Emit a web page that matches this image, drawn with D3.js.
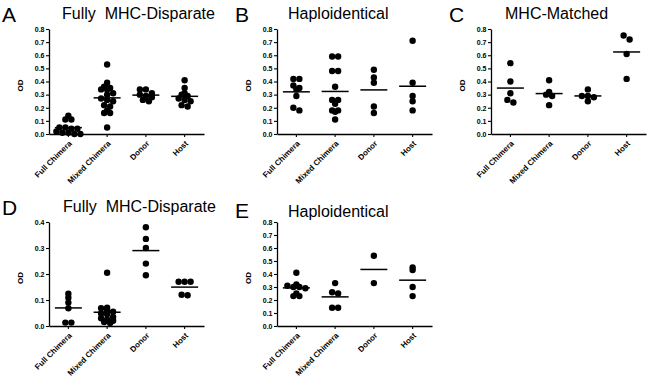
<!DOCTYPE html>
<html>
<head>
<meta charset="utf-8">
<script src="https://cdn.jsdelivr.net/npm/d3@7"></script>
<style>
  body { margin: 0; background: #fff; }
  text { font-family: "Liberation Sans", Arial, sans-serif; }
</style>
</head>
<body>
<svg id="chart" width="654" height="381"></svg>
<script>
// groups along the x axis
const categories = ["Full Chimera", "Mixed Chimera", "Donor", "Host"];

// y tick labels
const ticksTo08 = [0, 0.1, 0.2, 0.3, 0.4, 0.5, 0.6, 0.7, 0.8];
const ticksTo04 = [0, 0.1, 0.2, 0.3, 0.4];

// A - Fully MHC-Disparate
const aFull = [0.14, 0.11, 0.11, 0.05, 0.05, 0.04, 0.04, 0.02, 0.01, 0.01, 0.0, 0.0];
const aMixed = [0.53, 0.39, 0.36, 0.35, 0.34, 0.34, 0.31, 0.30, 0.27, 0.26, 0.25, 0.22, 0.21, 0.18, 0.16, 0.16, 0.05];
const aDonor = [0.34, 0.34, 0.31, 0.30, 0.29, 0.28, 0.26, 0.25];
const aHost = [0.41, 0.35, 0.31, 0.30, 0.29, 0.27, 0.26, 0.25, 0.22, 0.21];

// B - Haploidentical
const bFull = [0.42, 0.42, 0.37, 0.35, 0.34, 0.29, 0.20, 0.18];
const bMixed = [0.59, 0.59, 0.48, 0.48, 0.36, 0.26, 0.26, 0.23, 0.18, 0.18, 0.17, 0.11];
const bDonor = [0.49, 0.43, 0.39, 0.21, 0.16];
const bHost = [0.71, 0.39, 0.29, 0.25, 0.18];

// C - MHC-Matched
const cFull = [0.54, 0.40, 0.31, 0.26, 0.24];
const cMixed = [0.41, 0.32, 0.30, 0.29, 0.22];
const cDonor = [0.34, 0.29, 0.29, 0.28, 0.25];
const cHost = [0.75, 0.72, 0.61, 0.42];

// D - Fully MHC-Disparate
const dFull = [0.124, 0.109, 0.09, 0.068, 0.013, 0.013];
const dMixed = [0.205, 0.07, 0.068, 0.06, 0.055, 0.048, 0.045, 0.035, 0.03, 0.025, 0.02, 0.015, 0.012];
const dDonor = [0.38, 0.335, 0.30, 0.24, 0.195];
const dHost = [0.17, 0.17, 0.17, 0.12, 0.118];

// E - Haploidentical
const eFull = [0.41, 0.32, 0.31, 0.30, 0.30, 0.29, 0.25, 0.23, 0.23];
const eMixed = [0.33, 0.26, 0.25, 0.14, 0.14];
const eDonor = [0.54, 0.33];
const eHost = [0.45, 0.43, 0.30, 0.23];

const panels = [
  { letter: "A", title: "Fully  MHC-Disparate", groups: [aFull, aMixed, aDonor, aHost], ticks: ticksTo08,
    ax: 49, top: 29, bottom: 134, letterX: 2, letterY: 22, titleX: 62, titleY: 19 },
  { letter: "B", title: "Haploidentical", groups: [bFull, bMixed, bDonor, bHost], ticks: ticksTo08,
    ax: 277, top: 29, bottom: 134, letterX: 235, letterY: 22, titleX: 288, titleY: 19 },
  { letter: "C", title: "MHC-Matched", groups: [cFull, cMixed, cDonor, cHost], ticks: ticksTo08,
    ax: 491, top: 29, bottom: 134, letterX: 449, letterY: 22, titleX: 505, titleY: 19 },
  { letter: "D", title: "Fully  MHC-Disparate", groups: [dFull, dMixed, dDonor, dHost], ticks: ticksTo04,
    ax: 49, top: 222, bottom: 326, letterX: 2, letterY: 215, titleX: 63, titleY: 212 },
  { letter: "E", title: "Haploidentical", groups: [eFull, eMixed, eDonor, eHost], ticks: ticksTo08,
    ax: 277, top: 222, bottom: 326, letterX: 235, letterY: 218, titleX: 288, titleY: 217 }
];

const axisWidth = 155;
const dotR = 3.2;
const rowH = 4.5;   // height of a row of dots (px)
const stepX = 6;    // spacing of dots sharing a row
const meanHalf = 13.5;

// Prism-style scatter: bin by pixel height, lay each row out centred
function swarm(vals, y, bottom) {
  const pts = vals.map(v => ({ v: v, py: y(v) })).sort((a, b) => b.v - a.v);
  const rows = d3.group(pts, d => Math.floor((bottom - d.py) / rowH + 1e-6));
  rows.forEach(r => r.forEach((d, j) => { d.dx = (j - (r.length - 1) / 2) * stepX; }));
  return pts;
}

const svg = d3.select("#chart");

panels.forEach(p => {
  const x = d3.scaleBand().domain(categories).range([p.ax, p.ax + axisWidth]);
  const yMax = p.ticks[p.ticks.length - 1];
  const y = d3.scaleLinear().domain([0, yMax]).range([p.bottom, p.top]);

  const g = svg.append("g");

  // panel letter and title
  g.append("text").attr("x", p.letterX).attr("y", p.letterY)
    .attr("font-size", 21).text(p.letter);
  g.append("text").attr("x", p.titleX).attr("y", p.titleY)
    .attr("font-size", 16).style("white-space", "pre").text(p.title);

  // y axis
  const yAxis = g.append("g")
    .attr("transform", "translate(" + p.ax + ",0)")
    .call(d3.axisLeft(y).tickValues(p.ticks).tickFormat(d3.format(".1f"))
      .tickSize(3).tickSizeOuter(0).tickPadding(1.5));
  yAxis.select(".domain").attr("stroke-width", 1.3);
  yAxis.selectAll(".tick line").attr("stroke-width", 1.1);
  yAxis.selectAll("text").attr("font-size", 7).attr("font-weight", "bold")
    .attr("font-family", "'Liberation Sans', Arial, sans-serif");

  // x axis
  const xAxis = g.append("g")
    .attr("transform", "translate(0," + p.bottom + ")")
    .call(d3.axisBottom(x).tickSize(3).tickSizeOuter(0).tickPadding(2));
  xAxis.select(".domain").attr("stroke-width", 1.3);
  xAxis.selectAll(".tick line").attr("stroke-width", 1.1);
  xAxis.selectAll("text")
    .attr("font-size", 8).attr("font-weight", "bold")
    .attr("font-family", "'Liberation Sans', Arial, sans-serif")
    .attr("text-anchor", "end")
    .attr("x", 0).attr("y", 0).attr("dy", "0.35em")
    .attr("transform", "translate(2,8) rotate(-45)");

  // y axis title
  g.append("text")
    .attr("transform", "translate(" + (p.ax - 26) + "," + ((p.top + p.bottom) / 2 + 4) + ") rotate(-90)")
    .attr("text-anchor", "middle").attr("font-size", 8).attr("font-weight", "bold")
    .text("OD");

  // dots and mean lines
  p.groups.forEach((vals, i) => {
    const cx = x(categories[i]) + x.bandwidth() / 2;
    const pts = swarm(vals, y, p.bottom);
    g.selectAll(null).data(pts).enter().append("circle")
      .attr("cx", d => cx + d.dx).attr("cy", d => d.py)
      .attr("r", dotR).attr("fill", "#000");
    const m = d3.mean(vals);
    g.append("line")
      .attr("x1", cx - meanHalf).attr("x2", cx + meanHalf)
      .attr("y1", y(m)).attr("y2", y(m))
      .attr("stroke", "#000").attr("stroke-width", 1.5);
  });
});
</script>
</body>
</html>
